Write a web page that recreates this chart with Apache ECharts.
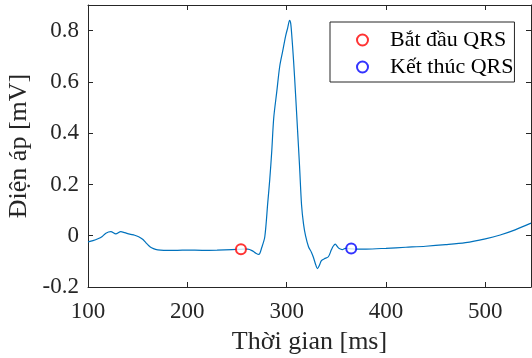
<!DOCTYPE html>
<html><head><meta charset="utf-8">
<script src="https://cdn.jsdelivr.net/npm/echarts@6/dist/echarts.min.js"></script>
<style>html,body{margin:0;padding:0;background:#fff;overflow:hidden}#c{width:532px;height:358px}</style>
</head><body><div id="c"></div>
<script>
const timeMs = [100,105,110,114,118,123,128,133,137,142,147,151,155,158,161,164,168,173,180,190,200,215,230,245,254,261,266,269,272,275,278,281,283,285,287,290,293,296,299,301,303,304,305,307,309,311,313,315,317,319,322,325,327,329,331,333,335,338,342,345,347,349,351,353,356,359,362,365,370,380,400,420,440,460,480,500,515,530,546];
const voltage = [-0.024,-0.019,-0.012,-0.004,0.010,0.016,0.007,0.016,0.012,0.006,0.002,-0.004,-0.014,-0.026,-0.038,-0.047,-0.053,-0.056,-0.057,-0.057,-0.056,-0.057,-0.056,-0.054,-0.053,-0.052,-0.060,-0.068,-0.073,-0.045,-0.004,0.13,0.22,0.33,0.46,0.56,0.66,0.72,0.78,0.81,0.84,0.83,0.79,0.68,0.55,0.41,0.27,0.12,0.045,0.0,-0.043,-0.065,-0.085,-0.11,-0.128,-0.115,-0.097,-0.09,-0.082,-0.055,-0.04,-0.033,-0.042,-0.05,-0.054,-0.049,-0.05,-0.051,-0.052,-0.052,-0.049,-0.045,-0.041,-0.035,-0.027,-0.012,0.003,0.023,0.049];
const qrsStart = [254, -0.053];
const qrsEnd = [365, -0.050];
const xTicks = [100,200,300,400,500];
const yTicks = [-0.2,0,0.2,0.4,0.6,0.8];
const legendNames = ['Bắt đầu QRS','Kết thúc QRS'];
const xName = 'Thời gian [ms]';
const yName = 'Điện áp [mV]';

const font = 'Liberation Serif';
const ink = '#262626';
const chart = echarts.init(document.getElementById('c'), null, {renderer:'canvas'});
const axisCommon = () => ({
  axisLine:{show:true,onZero:false,lineStyle:{color:ink,width:1}},
  axisTick:{show:true,inside:true,length:5,lineStyle:{color:ink,width:1}},
  splitLine:{show:false}
});
chart.setOption({
  animation:false,
  grid:{left:88,right:1,top:5,bottom:71,containLabel:false,outerBoundsMode:'none'},
  legend:{
    orient:'vertical', left:330, top:22,
    data:legendNames.map(n=>({name:n,icon:'emptyCircle'})),
    itemWidth:11,itemHeight:11,itemGap:5,
    padding:[7,1,4,26],
    borderColor:ink,borderWidth:1,backgroundColor:'#fff',
    textStyle:{fontFamily:font,fontSize:22,color:'#000',padding:[0,0,0,17]}
  },
  xAxis:[Object.assign({type:'value',min:100,max:546,interval:100,position:'bottom',
    name:xName,nameLocation:'middle',nameGap:42,
    nameTextStyle:{fontFamily:font,fontSize:26,color:ink},
    axisLabel:{fontFamily:font,fontSize:23,color:ink,margin:13,
      formatter:v=>xTicks.some(t=>Math.abs(t-v)<1e-6)?String(Math.round(v)):''}
  },axisCommon()),
  Object.assign({type:'value',min:100,max:546,interval:100,position:'top',axisLabel:{show:false}},axisCommon())],
  yAxis:[Object.assign({type:'value',min:-0.2,max:0.9,interval:0.2,position:'left',
    name:yName,nameLocation:'middle',nameGap:55,
    nameTextStyle:{fontFamily:font,fontSize:26,color:ink},
    axisLabel:{fontFamily:font,fontSize:23,color:ink,margin:9,
      formatter:v=>{const r=Math.round(v*10)/10;return yTicks.some(t=>Math.abs(t-v)<1e-6)?String(r):'';}}
  },axisCommon()),
  Object.assign({type:'value',min:-0.2,max:0.9,interval:0.2,position:'right',axisLabel:{show:false}},axisCommon())],
  series:[
    {type:'line',name:'ECG',data:timeMs.map((t,i)=>[t,voltage[i]]),showSymbol:false,smooth:0.3,
     lineStyle:{color:'#0072BD',width:1.2},itemStyle:{color:'#0072BD'},z:2},
    {type:'scatter',name:legendNames[0],data:[qrsStart],symbol:'emptyCircle',symbolSize:10,
     itemStyle:{color:'#FF0000',borderColor:'#FF0000',borderWidth:1.2},z:3},
    {type:'scatter',name:legendNames[1],data:[qrsEnd],symbol:'emptyCircle',symbolSize:10,
     itemStyle:{color:'#0000FF',borderColor:'#0000FF',borderWidth:1.2},z:3}
  ]
});
</script></body></html>
